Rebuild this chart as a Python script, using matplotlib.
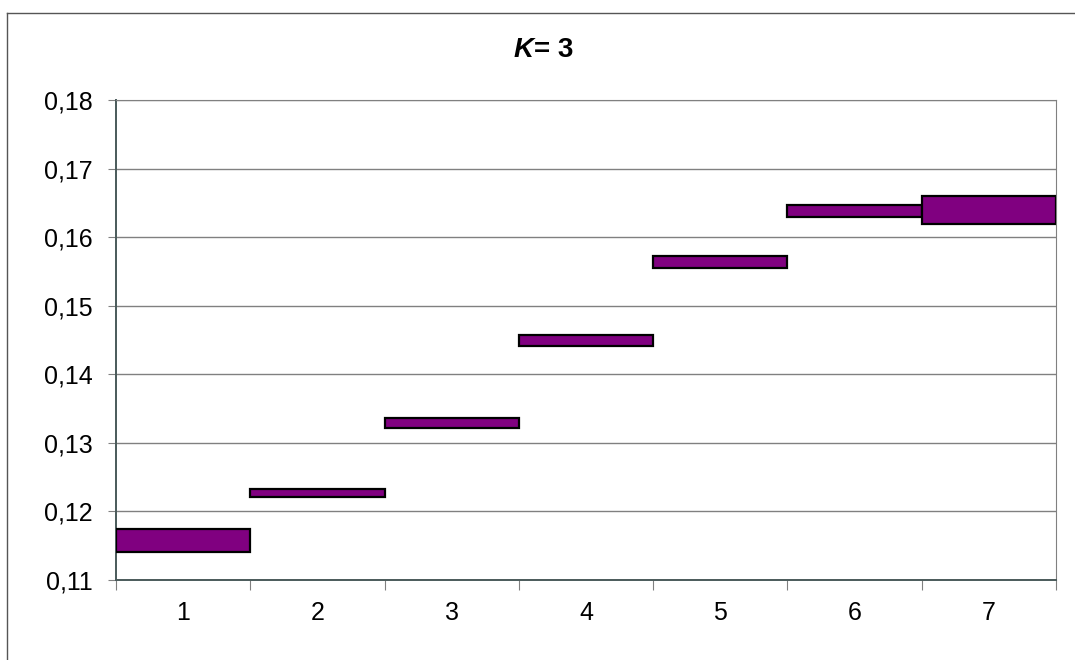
import matplotlib.pyplot as plt
import numpy as np
from matplotlib.lines import Line2D

plt.rcParams['font.family'] = ['Liberation Sans', 'DejaVu Sans']

# data (floating bars: low / high per category)
categories = [1, 2, 3, 4, 5, 6, 7]
lows = [0.1141, 0.1221, 0.1321, 0.1441, 0.1555, 0.1630, 0.1619]
highs = [0.1174, 0.1233, 0.1336, 0.1457, 0.1573, 0.1647, 0.1660]
yticks = [0.11, 0.12, 0.13, 0.14, 0.15, 0.16, 0.17, 0.18]


def makePlot():
    fig = plt.figure(figsize=(10.75, 6.6), dpi=100)
    ax = fig.add_axes([116 / 1075, 1 - 580 / 660, 940 / 1075, 480 / 660])

    x = np.array(categories)
    heights = np.array(highs) - np.array(lows)
    ax.bar(x, heights, bottom=lows, width=1.0, color='#800080',
           edgecolor='black', linewidth=1.6, zorder=3)

    ax.set_xlim(0.5, len(categories) + 0.5)
    ax.set_ylim(0.11, 0.18)

    # y axis with comma decimals
    ax.set_yticks(yticks)
    ax.set_yticklabels([f"{v:.2f}".replace('.', ',') for v in yticks], fontsize=18)
    ax.yaxis.grid(True, color='#808080', linewidth=1.0, zorder=0)

    # category ticks on boundaries, labels at centres
    ax.set_xticks(np.arange(0.5, len(categories) + 1, 1.0))
    ax.set_xticklabels([])
    ax.set_xticks(x, minor=True)
    ax.set_xticklabels([str(c) for c in categories], minor=True, fontsize=18)
    ax.tick_params(axis='x', which='major', length=7, color='#808080', direction='out')
    ax.tick_params(axis='x', which='minor', length=0, pad=15)
    ax.tick_params(axis='y', length=6, color='#808080', direction='out', pad=11)

    ax.spines['left'].set_color('#4a5a5a')
    ax.spines['bottom'].set_color('#4a5a5a')
    ax.spines['left'].set_linewidth(1.4)
    ax.spines['bottom'].set_linewidth(1.4)
    ax.spines['top'].set_color('#808080')
    ax.spines['right'].set_color('#808080')

    # title: italic K followed by "= 3"
    ty = 1 - 50 / 660
    fig.text(534 / 1075, ty, "K", fontsize=20, fontweight='bold',
             fontstyle='italic', ha='right', va='center')
    fig.text(534 / 1075, ty, "= 3", fontsize=20, fontweight='bold',
             ha='left', va='center')

    # outer chart frame (top and left edges visible)
    fig.add_artist(Line2D([7 / 1075, 1.0], [1 - 13 / 660, 1 - 13 / 660],
                          transform=fig.transFigure, color='#555555', linewidth=1.0))
    fig.add_artist(Line2D([7 / 1075, 7 / 1075], [0.0, 1 - 13 / 660],
                          transform=fig.transFigure, color='#555555', linewidth=1.0))

    fig.savefig("out.png", dpi=100)


makePlot()
